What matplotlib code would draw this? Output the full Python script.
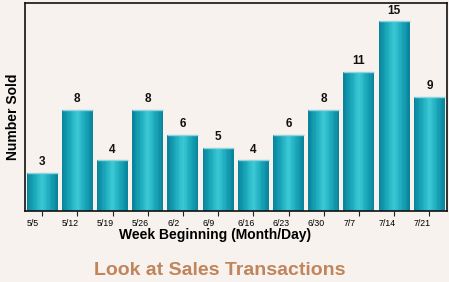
import matplotlib
matplotlib.use("Agg")
import matplotlib.pyplot as plt
import numpy as np
from matplotlib.colors import LinearSegmentedColormap

weeks = ["5/5", "5/12", "5/19", "5/26", "6/2", "6/9", "6/16", "6/23", "6/30", "7/7", "7/14", "7/21"]
sold = [3, 8, 4, 8, 6, 5, 4, 6, 8, 11, 15, 9]

plt.rcParams['font.family'] = ['Liberation Sans', 'DejaVu Sans']
bg = "#f7f2ee"
fig = plt.figure(figsize=(4.49, 2.82), dpi=100, facecolor=bg)
ax = fig.add_axes([24.5/449, 1-211/282, (447-24.5)/449, (211-2.5)/282])
ax.set_facecolor(bg)

cmap = LinearSegmentedColormap.from_list("teal", ["#07829a", "#1aa6ba", "#3ccad6", "#1aa6ba", "#07829a"])
width = 0.88
x = np.arange(len(sold))
nstripe = 24
sw = width / nstripe
for k in range(nstripe):
    off = -width/2 + (k + 0.5) * sw
    ax.bar(x + off, sold, width=sw * 1.02, color=cmap((k + 0.5) / nstripe), linewidth=0,
           antialiased=False, zorder=2)
for xi, h in zip(x, sold):
    ax.plot([xi - width/2, xi + width/2], [h, h], color="#8fd3dc", lw=1.0, zorder=3, solid_capstyle='butt')
    ax.annotate(str(h), (xi, h), xytext=(0, 3.5), textcoords="offset points",
                ha="center", va="bottom", fontsize=8.5, fontweight="bold", color="#111111")

ax.set_xlim(-0.5, len(sold) - 0.5)
ax.set_ylim(0, 16.5)
ax.set_yticks([])
ax.set_xticks(x)
ax.set_xticklabels([])
ax.set_xticks(x - 0.45, minor=True)
ax.set_xticklabels(weeks, minor=True, ha="left", fontsize=6.3)
ax.tick_params(axis="x", which="major", length=3.6, width=0.8, direction="out", color="#222222")
ax.tick_params(axis="x", which="minor", length=0, pad=6.0)
for s in ax.spines.values():
    s.set_linewidth(1.2)
    s.set_color("#111111")

fig.text(215/449, 1-228/282, "Week Beginning (Month/Day)", ha="center", va="top", fontsize=10, fontweight="bold")
fig.text(13.5/449, 1-116.5/282, "Number Sold", rotation=90, ha="center", va="center", fontsize=10, fontweight="bold")
fig.text(219.5/449, 1-275/282, "Look at Sales Transactions", ha="center", va="baseline", fontsize=14, fontweight="bold", color="#c0855c")

fig.savefig("out.png", dpi=100, facecolor=bg)
